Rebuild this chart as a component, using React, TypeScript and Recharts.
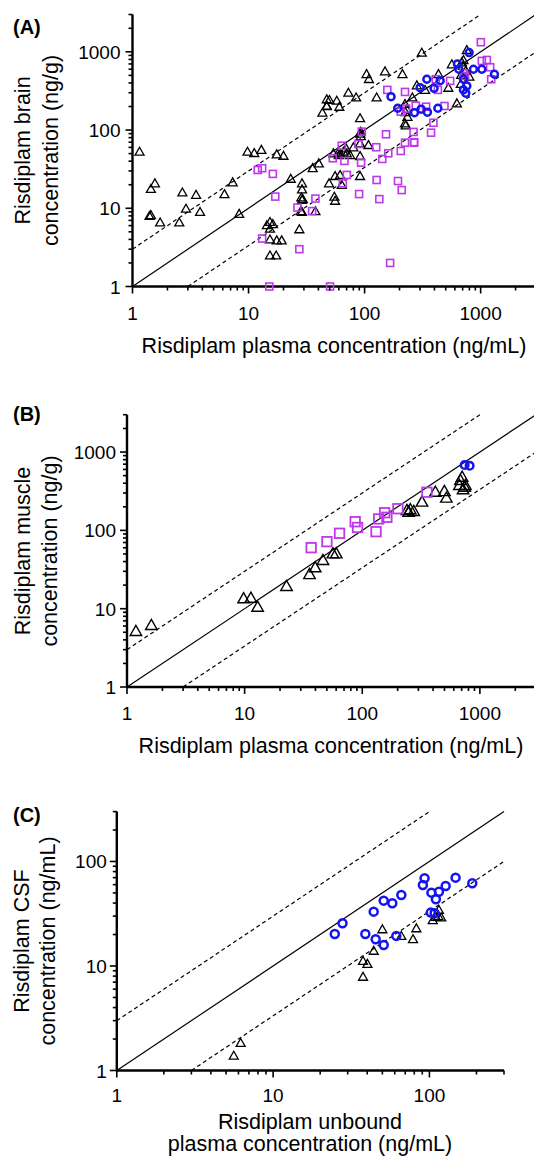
import React from 'react';
import { ScatterChart, Scatter, XAxis, YAxis, ReferenceLine } from 'recharts';

const FONT = '"Liberation Sans", Arial, Helvetica, sans-serif';
const MAGENTA = '#bf37ea';
const BLUE = '#1414f0';

// log ticks, majors get labels
const ticks3000 = [1, 2, 3, 4, 5, 6, 7, 8, 9, 10, 20, 30, 40, 50, 60, 70, 80, 90, 100, 200, 300, 400, 500, 600, 700, 800, 900, 1000, 2000, 3000];
const ticks300 = [1, 2, 3, 4, 5, 6, 7, 8, 9, 10, 20, 30, 40, 50, 60, 70, 80, 90, 100, 200, 300];
const majorTicks = [1, 10, 100, 1000];

// unity line and 3-fold lines
const unity3000 = [{ x: 1, y: 1 }, { x: 3000, y: 3000 }];
const upper3000 = [{ x: 1, y: 3 }, { x: 1000, y: 3000 }];
const lower3000 = [{ x: 3, y: 1 }, { x: 3000, y: 1000 }];
const unity300 = [{ x: 1, y: 1 }, { x: 300, y: 300 }];
const upper300 = [{ x: 1, y: 3 }, { x: 100, y: 300 }];
const lower300 = [{ x: 3, y: 1 }, { x: 300, y: 100 }];

// (A) brain vs plasma, [plasma ng/mL, brain ng/g]
const brainTriangles: [number, number][] = [
  [1.15, 53], [9.8, 53], [11.2, 51], [12.9, 56], [17.5, 49], [20, 47],
  [1.56, 20.9], [1.44, 17.7], [1.4, 8.0], [1.44, 8.2], [1.73, 6.6], [2.69, 16], [2.89, 9.9],
  [3.53, 14.9], [3.82, 9.0], [2.53, 6.6], [6.2, 15.2], [7.3, 21.5], [8.3, 8.5],
  [23.1, 23.9], [35.7, 32.7], [40.3, 37.6], [43.3, 167], [47.2, 203],
  [28.9, 20.9], [28.9, 17.5], [28.5, 13.8], [28.9, 12.8], [29.3, 13.2], [28.2, 9.2], [28.9, 9.0], [37.7, 9.2], [27.4, 5.4],
  [15.3, 6.7], [14.4, 6.1], [16.2, 6.3], [15.3, 5.5], [15.3, 4.0], [17.5, 3.9], [19.3, 3.9], [15.3, 2.5], [17.3, 2.5],
  [49.4, 20.9], [55.7, 25.9], [61.5, 26.7], [63.6, 19.9], [54.9, 14.1], [55.7, 12.5], [91.4, 25.9],
  [53.8, 50.5], [59.4, 51.4], [65.6, 53], [70.3, 50.5], [75, 48], [60, 48], [62, 50], [69.3, 58.5],
  [80, 60.3], [91.4, 46.7], [91.4, 67.8], [108, 64.5],
  [47.2, 248], [49.8, 243], [57.6, 238], [60.6, 199], [47.2, 205], [72.5, 301], [84.5, 262],
  [104, 521], [109, 450], [127, 262], [150, 565], [212, 521], [311, 977],
  [91.4, 142], [92.7, 95.5], [92, 90], [92.7, 84],
  [223, 216], [231, 185], [234, 148], [225, 170], [223, 122], [226, 115], [258, 262], [282, 374], [332, 326],
  [433, 521], [527, 348], [565, 694], [624, 220], [689, 736], [711, 787], [745, 575], [760, 1057],
  [800, 482], [675, 389], [703, 661], [679, 507],
];
const brainSquares: [number, number][] = [
  [12, 30.9], [13.1, 32.5], [16.2, 27.5], [17, 14.1], [13.1, 4.1], [27.4, 3.0], [26.4, 10.2], [37.7, 13.3],
  [35.3, 9.2], [15.1, 1.0], [50.4, 1.0], [166, 2.0], [63.6, 63], [88.5, 66.4], [53.2, 43.6], [67, 40.3],
  [93.3, 38.3], [70.3, 26.7], [64.9, 20.9], [89.7, 15.2], [126, 60.3], [142, 42.7], [160, 50.5], [205, 54],
  [127, 23], [134, 13.1], [194, 22.3], [209, 17.1], [223, 69], [267, 69],
  [157, 326], [223, 307], [205, 172], [228, 188], [276, 205], [339, 199], [488, 203], [411, 446], [428, 326],
  [546, 425], [392, 124], [374, 92.6], [264, 94.6], [267, 70], [153, 88.3], [94.6, 95.5],
  [1004, 1327], [1024, 765], [1131, 787], [1208, 635], [1233, 446], [711, 532], [735, 492],
];
const brainCircles: [number, number][] = [
  [796, 977], [631, 700], [649, 599], [867, 599], [1024, 599], [1315, 517], [711, 446], [711, 326],
  [760, 366], [745, 296], [344, 446], [448, 428], [301, 348], [397, 342], [169, 267], [193, 190],
  [269, 167], [307, 185], [348, 169], [428, 190],
];

// (B) muscle vs plasma
const muscleTriangles: [number, number][] = [
  [1.19, 5.2], [1.61, 6.2], [9.8, 13.6], [11.3, 13.8], [12.9, 10.6], [22.7, 19.5], [35.6, 27.7],
  [39.8, 33.8], [46.3, 41.9], [56.3, 51], [60.1, 51], [240, 182], [256, 186], [274, 177], [248, 173],
  [322, 233], [418, 312], [499, 318], [519, 262], [706, 485], [683, 440], [753, 380], [670, 380],
  [719, 335], [742, 362],
];
const muscleSquares: [number, number][] = [
  [36.8, 60.1], [50.1, 71.8], [64.1, 91.8], [87.1, 129], [91.2, 109], [131, 96.2], [138, 140],
  [155, 168], [162, 147], [201, 189], [355, 307],
];
const muscleCircles: [number, number][] = [[742, 684], [818, 670]];

// (C) CSF vs unbound plasma
const csfCircles: [number, number][] = [
  [24.8, 20.2], [27.8, 25.6], [44, 33.1], [51, 42.2], [57.9, 39.8], [66.1, 47.8], [38.9, 20.2],
  [45.3, 18], [51, 15.9], [61.4, 19.4], [93.1, 69.1], [90.8, 59.6], [103, 50.3], [115, 51.4],
  [127, 58.3], [147, 70], [188, 61.8], [110, 43.5], [102, 32.4], [108, 31.9],
];
const csfTriangles: [number, number][] = [
  [50, 22.5], [44, 14], [37.6, 11.2], [40.1, 10.5], [37.6, 7.9], [66.1, 19.4], [78.5, 18.1],
  [82.5, 23], [105, 27.5], [110, 29.6], [115, 34.4], [119, 29.2], [114, 30.1], [5.6, 1.39], [6.2, 1.84],
];

const pts = (a: [number, number][]) => a.map(([x, y]) => ({ x, y }));

const triangle = (w: number, sw: number) => (p: any) => {
  const { cx, cy } = p;
  const h = w * 0.88;
  return (
    <path
      d={`M${cx},${cy - h * 0.55} L${cx + w / 2},${cy + h * 0.45} L${cx - w / 2},${cy + h * 0.45} Z`}
      fill="none"
      stroke="#000"
      strokeWidth={sw}
    />
  );
};
const square = (s: number, sw: number) => (p: any) => (
  <rect x={p.cx - s / 2} y={p.cy - s / 2} width={s} height={s} fill="none" stroke={MAGENTA} strokeWidth={sw} />
);
const ring = (r: number, sw: number) => (p: any) => (
  <circle cx={p.cx} cy={p.cy} r={r} fill="none" stroke={BLUE} strokeWidth={sw} />
);

const XTick = ({ x, y, payload, labelDy }: any) => {
  const major = majorTicks.includes(payload.value);
  return (
    <g>
      <line x1={x} x2={x} y1={y} y2={y + (major ? 7 : 4)} stroke="#000" strokeWidth={1.6} />
      {major && (
        <text x={x} y={y + labelDy} textAnchor="middle" fontSize={19} fontFamily={FONT} fill="#000">
          {payload.value}
        </text>
      )}
    </g>
  );
};

const YTick = ({ x, y, payload, gap }: any) => {
  const major = majorTicks.includes(payload.value);
  return (
    <g>
      <line x1={x} x2={x - (major ? 7 : 4)} y1={y} y2={y} stroke="#000" strokeWidth={1.6} />
      {major && (
        <text x={x - gap} y={y + 7} textAnchor="end" fontSize={19} fontFamily={FONT} fill="#000">
          {payload.value}
        </text>
      )}
    </g>
  );
};

interface PanelProps {
  top: number;
  height: number;
  margin: { top: number; right: number; bottom: number; left: number };
  max: number;
  ticks: number[];
  labelDy: number;
  gap: number;
  lines: { x: number; y: number }[][];
  series: { data: [number, number][]; shape: any }[];
}

// axis boxes are 1px so the plot edge sits at margin + 1
function Panel({ top, height, margin, max, ticks, labelDy, gap, lines, series }: PanelProps) {
  return (
    <div style={{ position: 'absolute', left: 0, top }}>
      <ScatterChart width={540} height={height} margin={margin}>
        <XAxis
          type="number"
          dataKey="x"
          scale="log"
          domain={[1, max]}
          ticks={ticks}
          height={1}
          tickSize={0}
          tickMargin={0}
          tickLine={false}
          interval={0}
          axisLine={{ stroke: '#000', strokeWidth: 2.4 }}
          tick={<XTick labelDy={labelDy} />}
        />
        <YAxis
          type="number"
          dataKey="y"
          scale="log"
          domain={[1, max]}
          ticks={ticks}
          width={1}
          tickSize={0}
          tickMargin={0}
          tickLine={false}
          interval={0}
          axisLine={{ stroke: '#000', strokeWidth: 2.4 }}
          tick={<YTick gap={gap} />}
        />
        {lines.map((seg, i) => (
          <ReferenceLine
            key={i}
            segment={seg}
            stroke="#000"
            strokeWidth={1.2}
            strokeDasharray={i === 0 ? undefined : '4 3'}
          />
        ))}
        {series.map((s, i) => (
          <Scatter key={i} data={pts(s.data)} shape={s.shape} isAnimationActive={false} />
        ))}
      </ScatterChart>
    </div>
  );
}

export default function App() {
  const title = { fontSize: 21.5, fontFamily: FONT, fill: '#000' };
  const panelLabel = { fontSize: 20, fontWeight: 700, fontFamily: FONT, fill: '#000' };
  return (
    <div style={{ position: 'absolute', left: 0, top: 0, width: 534, height: 1157, overflow: 'hidden', background: '#fff' }}>
      <Panel
        top={0}
        height={330}
        margin={{ top: 14.5, right: 4, bottom: 42.5, left: 131.5 }}
        max={3000}
        ticks={ticks3000}
        labelDy={33}
        gap={12}
        lines={[unity3000, upper3000, lower3000]}
        series={[
          { data: brainTriangles, shape: triangle(9, 1.3) },
          { data: brainSquares, shape: square(7, 1.6) },
          { data: brainCircles, shape: ring(3.5, 2.5) },
        ]}
      />
      <Panel
        top={400}
        height={330}
        margin={{ top: 14.7, right: 4, bottom: 42, left: 126 }}
        max={3000}
        ticks={ticks3000}
        labelDy={33}
        gap={11}
        lines={[unity3000, upper3000, lower3000]}
        series={[
          { data: muscleTriangles, shape: triangle(11.5, 1.4) },
          { data: muscleSquares, shape: square(9.5, 1.8) },
          { data: muscleCircles, shape: ring(3.8, 2.5) },
        ]}
      />
      <Panel
        top={800}
        height={320}
        margin={{ top: 11.6, right: 36, bottom: 48.5, left: 115.8 }}
        max={300}
        ticks={ticks300}
        labelDy={31}
        gap={10}
        lines={[unity300, upper300, lower300]}
        series={[
          { data: csfTriangles, shape: triangle(9, 1.3) },
          { data: csfCircles, shape: ring(4, 2.5) },
        ]}
      />
      <svg width={534} height={1157} style={{ position: 'absolute', left: 0, top: 0, pointerEvents: 'none' }}>
        <text x={13} y={33.5} {...panelLabel}>(A)</text>
        <text x={13} y={420.5} {...panelLabel}>(B)</text>
        <text x={13} y={822} {...panelLabel}>(C)</text>

        <text transform="translate(29.5,150.5) rotate(-90)" textAnchor="middle" {...title}>Risdiplam brain</text>
        <text transform="translate(57.5,150.5) rotate(-90)" textAnchor="middle" {...title}>concentration (ng/g)</text>
        <text x={334} y={352.5} textAnchor="middle" {...title}>Risdiplam plasma concentration (ng/mL)</text>

        <text transform="translate(29.5,551) rotate(-90)" textAnchor="middle" {...title}>Risdiplam muscle</text>
        <text transform="translate(57,551) rotate(-90)" textAnchor="middle" {...title}>concentration (ng/g)</text>
        <text x={331} y={753} textAnchor="middle" {...title}>Risdiplam plasma concentration (ng/mL)</text>

        <text transform="translate(29,941) rotate(-90)" textAnchor="middle" {...title}>Risdiplam CSF</text>
        <text transform="translate(55,941) rotate(-90)" textAnchor="middle" {...title}>concentration (ng/mL)</text>
        <text x={310} y={1129} textAnchor="middle" {...title}>Risdiplam unbound</text>
        <text x={310} y={1151} textAnchor="middle" {...title}>plasma concentration (ng/mL)</text>
      </svg>
    </div>
  );
}
